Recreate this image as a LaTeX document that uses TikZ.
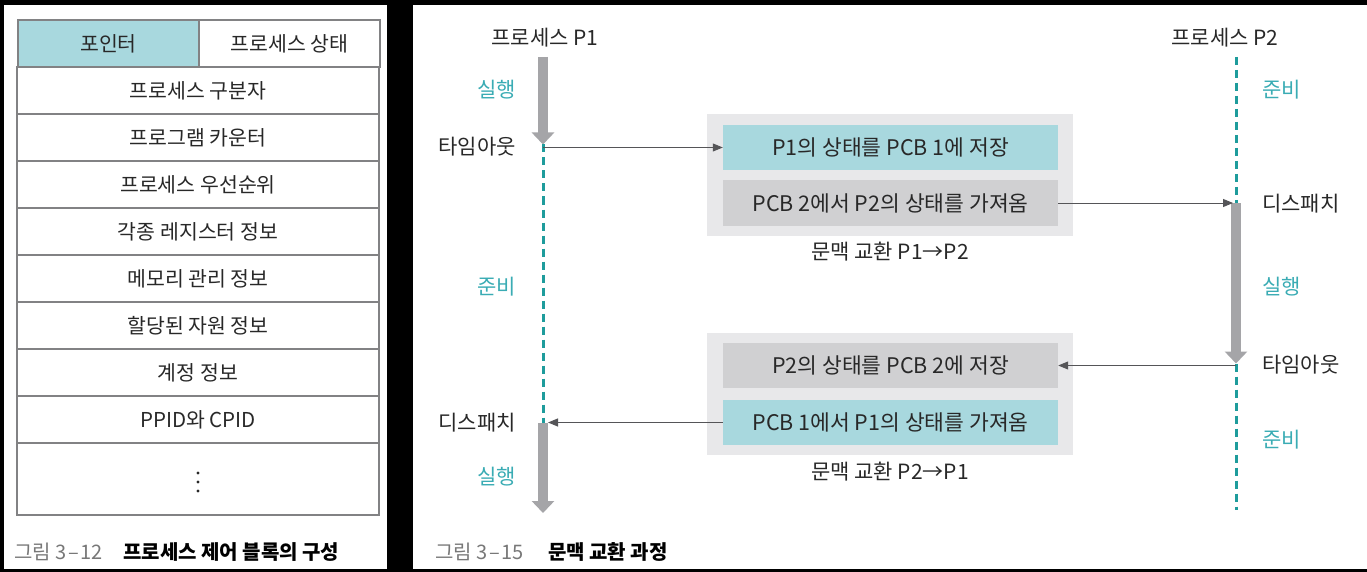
\documentclass[tikz,border=0pt]{standalone}
\usepackage{fontspec}
\setmainfont{Noto Sans CJK KR}
\usetikzlibrary{arrows.meta}
\definecolor{tealfill}{RGB}{168,216,222}
\definecolor{greyfill}{RGB}{208,208,210}
\definecolor{outerfill}{RGB}{232,232,234}
\definecolor{tealtxt}{RGB}{58,172,180}
\definecolor{tealdash}{RGB}{30,156,156}
\definecolor{bararrow}{RGB}{165,165,168}
\definecolor{thinarrow}{RGB}{85,85,88}
\definecolor{tableline}{RGB}{130,130,132}
\definecolor{captiongrey}{RGB}{120,120,120}
\definecolor{txt}{RGB}{40,40,40}
\tikzset{
  cell/.style={draw=tableline, line width=1.2pt, minimum width=362pt, minimum height=47pt, inner sep=0pt, text=txt, font=\fontsize{20.5}{21}\selectfont},
  halfcell/.style={cell, minimum width=181pt},
  innerbox/.style={minimum width=335pt, minimum height=45pt, inner sep=0pt, text=txt, font=\fontsize{21.5}{22}\selectfont},
  outerbox/.style={fill=outerfill, minimum width=366pt, minimum height=122pt, inner sep=0pt},
  lbl/.style={text=txt, font=\fontsize{21}{21}\selectfont, inner sep=0pt},
  state/.style={text=tealtxt, font=\fontsize{21}{21}\selectfont, inner sep=0pt},
  runbar/.style={draw=bararrow, line width=9.5pt, -{Triangle[width=22pt,length=12pt]}},
  waitline/.style={draw=tealdash, line width=3pt, dash pattern=on 8pt off 5pt},
  msg/.style={draw=thinarrow, line width=1pt, -{Triangle[width=8pt,length=10pt]}},
  captext/.style={font=\fontsize{20}{20}\selectfont, inner sep=0pt, anchor=west},
  vdot/.style={fill=txt}
}
\begin{document}
\begin{tikzpicture}[x=1pt,y=-1pt]
\useasboundingbox (0,0) rectangle (1367,572);
\fill[black] (0,0) rectangle (1367,572);
\fill[white] (4,5) rectangle (387,569);
\fill[white] (413,5) rectangle (1367,569);

% ---- left table
\node[halfcell, fill=tealfill] (ptr) at (108.5,43.5) {포인터};
\node[halfcell] (pst) at (289.5,43.5) {프로세스 상태};
\node[cell] (r2) at (198,90.5) {프로세스 구분자};
\node[cell] (r3) at (198,137.5) {프로그램 카운터};
\node[cell] (r4) at (198,184.5) {프로세스 우선순위};
\node[cell] (r5) at (198,231.5) {각종 레지스터 정보};
\node[cell] (r6) at (198,278.5) {메모리 관리 정보};
\node[cell] (r7) at (198,325.5) {할당된 자원 정보};
\node[cell] (r8) at (198,372.5) {계정 정보};
\node[cell] (r9) at (198,419.5) {PPID와 CPID};
\node[cell, minimum height=72pt] (r10) at (198,479) {};
\fill[vdot] (198,473) circle (1.6pt);
\fill[vdot] (198,482) circle (1.6pt);
\fill[vdot] (198,491) circle (1.6pt);

\node[captext, text=captiongrey] (capl1) at (14,552) {그림\hspace{4pt}3\hspace{2pt}–\hspace{2pt}12};
\node[captext, font=\fontsize{20}{20}\selectfont\bfseries] (capl2) at (123,552) {프로세스 제어 블록의 구성};

% ---- right: context switch
\node[lbl] (p1) at (545,38) {프로세스 P1};
\node[lbl] (p2) at (1225,38) {프로세스 P2};

\coordinate (p1top) at (543,57);
\coordinate (p1to) at (543,147.5);
\coordinate (p1d) at (543,422.5);
\coordinate (p1end) at (543,513);
\coordinate (p2top) at (1236,57);
\coordinate (p2d) at (1236,203);
\coordinate (p2to) at (1236,365.5);
\coordinate (p2end) at (1236,510);

% context switch boxes
\node[outerbox] (o1) at (890,175) {};
\node[innerbox, fill=tealfill] (b1a) at (890.5,147.5) {P1의 상태를 PCB 1에 저장};
\node[innerbox, fill=greyfill] (b1b) at (890.5,203) {PCB 2에서 P2의 상태를 가져옴};
\node[lbl] (c1) at (890,252) {문맥 교환 P1→P2};

\node[outerbox] (o2) at (890,393.5) {};
\node[innerbox, fill=greyfill] (b2a) at (890.5,365.5) {P2의 상태를 PCB 2에 저장};
\node[innerbox, fill=tealfill] (b2b) at (890.5,422.5) {PCB 1에서 P1의 상태를 가져옴};
\node[lbl] (c2) at (890,472) {문맥 교환 P2→P1};

% P1 timeline
\draw[runbar] (p1top) -- ([yshift=3pt]p1to);
\draw[waitline] ([yshift=3pt]p1to) -- (p1d);
\draw[runbar] (p1d) -- (p1end);
% P2 timeline
\draw[waitline] (p2top) -- (p2d);
\draw[runbar] (p2d) -- ([yshift=2pt]p2to);
\draw[waitline] ([yshift=2pt]p2to) -- (p2end);

% messages
\draw[msg] (p1to) -- (b1a.west);
\draw[msg] (b1b.east) -- ([xshift=-3pt]p2d);
\draw[msg] (p2to) -- (b2a.east);
\draw[msg] (b2b.west) -- ([xshift=5pt]p1d);

% labels P1
\node[state, anchor=east] (s1) at (516,90) {실행};
\node[lbl, anchor=east] (t1) at (516,147) {타임아웃};
\node[state, anchor=east] (s2) at (516,287) {준비};
\node[lbl, anchor=east] (d1) at (516,423) {디스패치};
\node[state, anchor=east] (s3) at (516,477) {실행};
% labels P2
\node[state, anchor=west] (s4) at (1262,90) {준비};
\node[lbl, anchor=west] (d2) at (1262,204) {디스패치};
\node[state, anchor=west] (s5) at (1262,287) {실행};
\node[lbl, anchor=west] (t2) at (1262,365) {타임아웃};
\node[state, anchor=west] (s6) at (1262,440) {준비};

\node[captext, text=captiongrey] (capr1) at (435,552) {그림\hspace{4pt}3\hspace{2pt}–\hspace{2pt}15};
\node[captext, font=\fontsize{20}{20}\selectfont\bfseries] (capr2) at (548,552) {문맥 교환 과정};
\end{tikzpicture}
\end{document}
